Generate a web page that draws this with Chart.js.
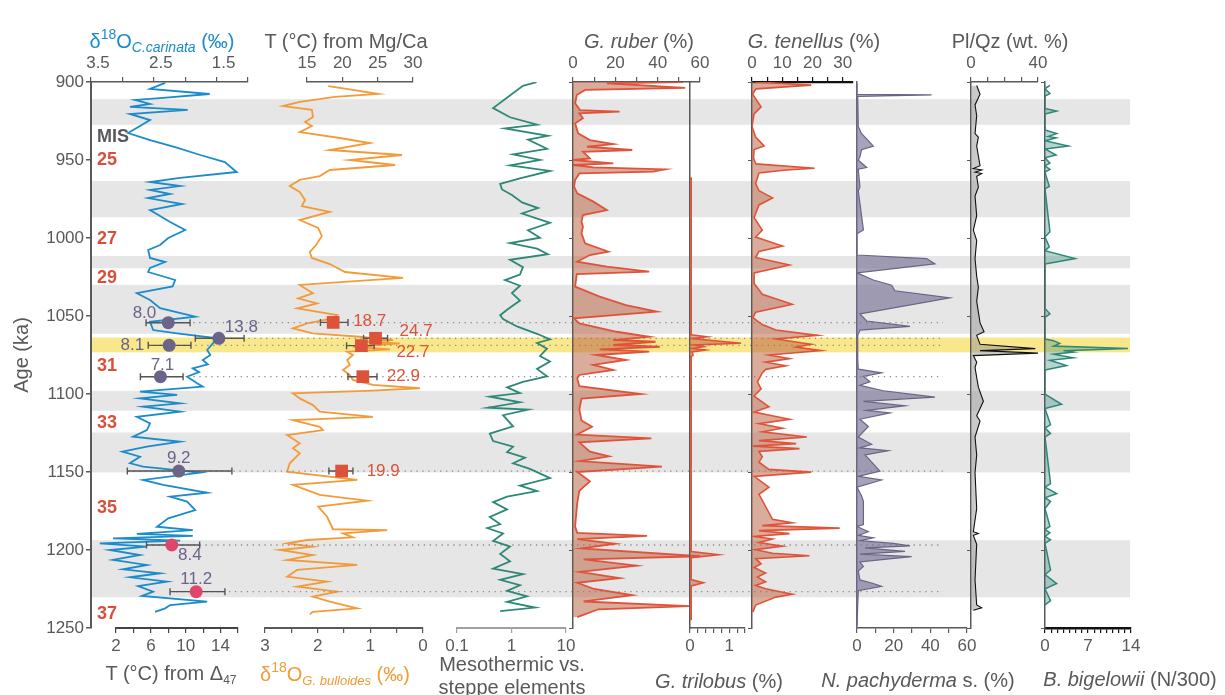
<!DOCTYPE html>
<html>
<head>
<meta charset="utf-8">
<title>Multi-proxy record 900-1250 ka</title>
<script src="https://cdn.jsdelivr.net/npm/chart.js@4.4.1/dist/chart.umd.min.js"></script>
<style>
  html, body { margin: 0; padding: 0; background: #fff; }
  #wrap { position: relative; width: 1225px; height: 695px; overflow: hidden;
          font-family: "Liberation Sans", Arial, Helvetica, sans-serif; }
  #wrap canvas { position: absolute; left: 0; top: 0; }
  .ttl { position: absolute; z-index: 5; white-space: nowrap; font-size: 20px; line-height: 20px;
         color: #58595b; transform: translateX(-50%); }
  .sup { font-size: 14px; position: relative; top: -9px; }
  .sub { font-size: 14px; position: relative; top: 4px; }
</style>
</head>
<body>
<div id="wrap">
  <div class="ttl" style="left:162px;top:31px;color:#1b8bcb">δ<span class="sup">18</span>O<span class="sub"><i>C.carinata</i></span> (‰)</div>
  <div class="ttl" style="left:346px;top:31px">T (°C) from Mg/Ca</div>
  <div class="ttl" style="left:639px;top:31px"><i>G. ruber</i> (%)</div>
  <div class="ttl" style="left:814px;top:31px"><i>G. tenellus</i> (%)</div>
  <div class="ttl" style="left:1010px;top:31px">Pl/Qz (wt. %)</div>

  <div class="ttl" style="left:171px;top:663px">T (°C) from Δ<span class="sub" style="font-size:12px">47</span></div>
  <div class="ttl" style="left:335px;top:664px;color:#f29b38">δ<span class="sup">18</span>O<span class="sub" style="font-size:13px"><i>G. bulloides</i></span> (‰)</div>
  <div class="ttl" style="left:512px;top:653px;line-height:23px;text-align:center">Mesothermic vs.<br>steppe elements</div>
  <div class="ttl" style="left:719px;top:671px"><i>G. trilobus</i> (%)</div>
  <div class="ttl" style="left:918px;top:670px"><i>N. pachyderma</i> s. (%)</div>
  <div class="ttl" style="left:1130px;top:669px"><i>B. bigelowii</i> (N/300)</div>
</div>
<script>
// ---- data (age in ka) ----

// glacial intervals (grey) and the highlighted event (yellow)
const glacialStart = [911, 963.5, 1011.5, 1030, 1098, 1124.7, 1193.7];
const glacialEnd = [927.4, 986.7, 1019.4, 1061.4, 1110.7, 1150.3, 1230.3];
const eventStart = 1063.8;
const eventEnd = 1073.3;

// MIS labels
const misStage = ["25", "27", "29", "31", "33", "35", "37"];
const misAge = [949.7, 1000.4, 1025.7, 1082, 1118.9, 1172.8, 1241];

// age axis
const ageTicks = [900, 950, 1000, 1050, 1100, 1150, 1200, 1250];

// d18O C. carinata (permil)
const carinataAge = [900.6,904.5,907.7,910.3,911.5,914.1,916.0,917.9,920.5,924.4,928.2,932.7,937.2,941.7,946.8,951.3,957.7,961.5,964.1,966.7,969.2,971.8,974.4,978.2,982.1,985.9,989.7,994.9,1000.0,1004.5,1007.7,1012.8,1015.4,1019.2,1021.8,1026.9,1031.0,1035.4,1039.7,1045.0,1050.4,1053.7,1059.0,1061.1,1064.3,1067.5,1071.8,1075.0,1078.2,1081.0,1083.5,1086.0,1088.9,1093.1,1095.3,1098.5,1100.6,1102.8,1106.0,1108.1,1111.3,1114.6,1118.8,1123.1,1127.4,1130.6,1133.8,1137.0,1140.2,1144.4,1146.6,1150.4,1155.1,1158.3,1163.3,1165.8,1169.0,1174.4,1179.7,1185.1,1187.2,1189.7,1191.0,1192.5,1194.0,1195.7,1197.9,1200.0,1203.2,1206.4,1209.6,1212.4,1214.9,1217.5,1220.3,1223.1,1226.7,1229.5,1233.1,1235.3,1237.4,1239.6];
const carinataD18O = [2.32,2.56,1.61,2.40,2.80,2.56,2.88,1.96,2.88,2.56,2.72,2.91,2.56,2.16,1.76,1.37,1.18,2.08,2.56,2.08,2.56,2.24,2.59,2.05,2.56,2.40,2.24,2.00,2.27,2.40,2.59,2.56,2.32,2.56,2.59,2.16,2.20,2.77,2.56,2.40,1.84,2.56,2.51,2.13,1.49,1.56,1.65,1.60,1.72,1.64,1.88,1.78,1.97,1.81,1.72,2.72,2.13,2.72,2.08,2.67,2.08,2.77,2.56,2.61,2.83,2.08,2.61,3.00,2.72,2.88,2.67,1.76,2.67,2.35,1.65,2.24,1.97,1.84,2.27,2.45,1.88,2.77,1.88,3.15,2.08,3.36,2.61,3.20,2.72,3.15,2.61,2.99,2.40,2.88,2.29,2.75,2.51,2.69,1.65,2.24,2.32,2.48];
const carinataTicks = [1, 1.5, 2, 2.5, 3, 3.5];
const carinataLabels = [1.5, 2.5, 3.5];

// clumped isotope temperatures T(D47), degC, with 1-sigma range
const d47Age = [1054.3, 1064.3, 1068.8, 1088.9, 1149.4, 1196.8, 1226.7];
const d47T = [8.0, 13.8, 8.1, 7.1, 9.2, 8.4, 11.2];
const d47Lo = [5.45, 11.1, 5.7, 4.8, 3.3, 5.5, 8.2];
const d47Hi = [10.5, 16.7, 10.6, 9.7, 15.3, 11.6, 14.5];
const d47Ticks = [2, 4, 6, 8, 10, 12, 14, 16];
const d47Labels = [2, 6, 10, 14];

// Mg/Ca temperatures, degC
const mgcaAge = [1054.1, 1064.3, 1069.0, 1088.9, 1149.4];
const mgcaT = [18.7, 24.7, 22.7, 22.9, 19.9];
const mgcaLo = [16.9, 23.0, 20.6, 20.8, 18.1];
const mgcaHi = [20.8, 26.4, 24.5, 24.9, 21.5];
const mgcaTicks = [15, 20, 25, 30];

// d18O G. bulloides (permil)
const bulloidesAge = [902.6,905.1,907.7,909.6,912.8,915.4,917.9,922.4,925.6,928.2,932.1,935.9,939.1,943.6,946.8,950.0,953.2,956.4,960.3,962.8,966.7,970.5,975.6,979.5,983.3,988.5,993.6,998.7,1004.5,1009.0,1012.8,1016.7,1021.8,1025.6,1030.1,1035.4,1038.7,1041.9,1045.1,1049.4,1051.5,1054.7,1057.9,1061.1,1063.3,1065.4,1066.5,1067.5,1069.7,1071.4,1072.9,1075.0,1078.2,1081.4,1084.6,1087.8,1091.0,1094.2,1096.3,1097.9,1099.6,1102.8,1107.1,1111.3,1114.6,1116.7,1121.0,1123.1,1126.3,1131.6,1134.8,1138.0,1144.4,1149.8,1155.1,1158.3,1164.7,1168.4,1172.2,1178.7,1186.7,1187.2,1189.3,1191.9,1193.6,1195.7,1197.9,1200.0,1203.2,1206.4,1209.6,1212.8,1217.1,1220.3,1223.5,1226.7,1229.9,1233.1,1237.4,1239.6,1241.3];
const bulloidesD18O = [1.80,1.33,0.85,1.67,2.34,2.66,2.11,2.09,2.24,2.11,2.34,1.58,1.01,1.77,0.40,1.39,0.53,1.77,1.96,2.34,2.53,2.34,2.24,2.30,1.77,2.34,1.99,1.92,2.03,2.15,2.11,1.77,1.48,0.38,2.34,2.09,2.37,2.01,2.39,1.63,1.71,2.20,2.47,2.09,1.20,0.57,1.20,0.44,1.33,0.63,1.44,1.33,1.44,1.39,1.52,1.39,1.33,0.95,0.06,0.95,2.47,2.34,2.09,1.96,0.95,2.47,1.96,1.90,2.58,2.34,2.47,2.34,2.53,2.58,1.25,2.47,1.96,1.06,1.99,1.82,1.71,0.68,1.52,1.33,2.20,2.58,2.09,2.72,2.09,2.58,1.25,2.39,2.58,1.82,2.39,1.63,2.09,1.77,1.25,2.09,2.15];
const bulloidesTicks = [0, 0.5, 1, 1.5, 2, 2.5, 3];
const bulloidesLabels = [0, 1, 2, 3];

// mesothermic vs. steppe elements (ratio, log axis)
const mesoAge = [900.1,902.5,909.6,916.7,922.6,927.4,929.7,934.5,936.9,942.8,946.4,949.9,953.5,957.0,961.8,965.3,968.9,972.4,977.2,980.8,984.3,990.3,995.0,999.8,1003.3,1006.8,1010.4,1014.0,1018.7,1023.5,1027.0,1030.6,1035.3,1040.1,1046.0,1049.5,1051.9,1056.7,1061.4,1065.0,1067.3,1070.9,1075.6,1079.2,1083.9,1088.7,1092.2,1095.8,1099.4,1101.7,1105.3,1108.8,1110.0,1113.6,1120.7,1125.4,1130.2,1133.7,1137.3,1140.8,1144.4,1148.0,1153.9,1158.7,1162.2,1165.8,1169.3,1174.0,1178.8,1183.5,1185.9,1189.4,1194.2,1197.8,1202.5,1207.3,1212.0,1215.5,1219.1,1222.6,1226.2,1229.7,1233.3,1236.9,1239.2];
const mesoRatio = [2.88,1.62,0.86,0.46,0.94,2.94,0.76,4.66,2.01,4.48,1.07,3.33,0.94,5.09,1.43,0.62,0.67,1.02,1.56,3.07,1.56,5.09,2.01,3.33,0.94,2.94,4.66,0.94,1.62,1.43,0.76,1.43,1.02,1.43,0.83,0.62,0.70,1.26,2.94,5.09,2.94,4.48,3.33,5.09,2.94,4.48,1.62,0.83,1.43,0.40,1.43,0.37,2.01,0.70,1.07,0.40,0.46,1.07,0.83,1.77,1.07,2.18,5.09,1.43,2.94,0.83,0.46,0.83,0.40,0.62,0.36,0.70,0.46,0.94,0.62,0.94,0.46,1.62,0.62,1.43,0.83,1.92,0.83,2.70,0.62];
const mesoTicks = [0.1, 1, 10];

// G. ruber (%)
const ruberAge = [900,900.8,903.8,905.1,908.3,913.7,918,919,920.1,923.3,926.5,932.9,937.2,939.8,941.5,943.6,944.7,949,950,952.1,953.2,954.7,956,957.5,958.6,962.8,967.1,971.4,976.7,982.1,985.3,989.5,992.8,997,1003.4,1008.8,1010.9,1015.2,1018.4,1021.6,1023.1,1031.2,1037.6,1043,1047.2,1051.5,1054.7,1060.1,1063.3,1065.4,1066.5,1068.6,1069.7,1071.4,1072.9,1075,1078.2,1081.4,1084.6,1087.8,1090,1095,1100,1103,1110,1117,1121,1126,1128.5,1131,1137,1140,1143,1146.5,1150,1156,1162,1170,1185,1189,1191,1193,1196,1199,1204,1206,1210,1214,1218,1221,1225,1229,1233,1236,1238,1243];
const ruberPct = [52,16,53,5.7,1.8,1,3.3,22,3,4.7,1,2.4,8,19,6.6,28,4.7,8,0,19,0,9.6,43.6,38,3,1,0.5,2,9.6,16,4.7,4,4.7,4,5.7,16.7,8,1.9,16,36,1.8,1,12.6,25,39.6,0.5,3,20.6,36,19,39,19,41,12.6,36,11,25,9.6,19,3,2,3,32,4,3,4,9,2,37,3,8,17,3,42,2,8,3,2,1,2,35,2,20,4,60,5,30,3,22,2,10,28,5,55,12,2];
const ruberTicks = [0, 10, 20, 30, 40, 50, 60];
const ruberLabels = [0, 20, 40, 60];

// G. trilobus (%)
const trilobusAge = [961,1062,1063.3,1064.5,1067.5,1068.5,1069.7,1070.8,1071.8,1073,1075,1076,1201,1203,1205,1219,1221,1223,1245];
const trilobusPct = [0.03,0.03,0.43,0.05,1.3,0.1,0.34,0.05,0.39,0.05,0.08,0.03,0.03,0.73,0.03,0.03,0.34,0.03,0.03];
const trilobusTicks = [0, 0.2, 0.4, 0.6, 0.8, 1, 1.2, 1.4];
const trilobusLabels = [0, 1];

// G. tenellus (%)
const tenellusAge = [900.0,902.0,904.4,907.9,915.9,920.4,928.5,935.3,941.0,943.3,949.1,952.5,955.3,956.4,958.3,965.1,969.7,974.3,978.8,986.9,994.9,999.4,1005.2,1008.6,1012.5,1017.3,1022.4,1029.2,1036.1,1042.5,1047.5,1051.0,1055.5,1059.0,1062.4,1064.7,1068.1,1069.9,1072.2,1075.0,1077.3,1079.6,1081.9,1084.2,1086.5,1092.2,1096.7,1101.3,1108.2,1111.6,1116.2,1119.0,1121.9,1124.2,1127.6,1129.9,1131.8,1133.4,1135.0,1136.8,1140.3,1143.7,1148.3,1150.1,1152.8,1159.7,1164.3,1180.3,1182.6,1184.4,1186.0,1187.6,1189.5,1191.3,1192.9,1195.2,1197.5,1199.8,1202.1,1203.7,1205.5,1208.9,1211.2,1214.7,1217.4,1220.4,1222.7,1224.9,1228.4,1230.2,1235.3,1239.8];
const tenellusPct = [1.2,19.6,1.3,0.2,3.0,0.7,0.0,1.2,4.0,0.7,0.5,1.3,20.7,11.3,2.3,1.2,2.3,6.8,2.3,0.7,3.4,1.2,10.1,2.3,1.2,12.4,0.7,0.7,3.4,13.3,1.2,0.3,3.4,7.9,21.7,7.9,19.6,14.6,22.8,5.6,12.4,4.5,11.2,4.5,3.4,1.8,3.0,0.7,5.6,0.7,12.4,2.3,10.1,3.4,18.1,2.3,14.6,0.3,15.7,2.3,3.4,2.3,5.6,19.6,0.7,5.6,2.3,6.8,13.3,3.4,29.0,2.3,12.4,0.7,6.8,2.3,10.1,1.2,6.8,19.0,1.2,3.0,0.7,4.5,1.8,4.5,1.2,4.5,13.3,7.9,1.2,0.3];
const tenellusTicks = [0, 5, 10, 15, 20, 25, 30];
const tenellusLabels = [0, 10, 20, 30];

// N. pachyderma s. (%)
const pachyAge = [901,907.9,908.3,909.3,928.5,933.1,936.5,941.1,943.4,947.9,950.2,954.8,955.9,967.4,969.7,994.9,997.2,1010.9,1013.2,1016.6,1022.3,1026.9,1030.3,1033.8,1038.4,1048.7,1053.2,1056.7,1059,1062.4,1077.3,1084.1,1086.4,1088.7,1092.1,1094.4,1097.9,1102,1104.7,1107.5,1110.5,1112.1,1116.2,1120.8,1127.6,1132.2,1134.5,1136.3,1139.1,1144.8,1149.4,1152.8,1155.1,1159.7,1165.4,1168.8,1183.7,1184.9,1188.3,1190.6,1192.2,1194,1195.8,1197.4,1198.6,1200.9,1202.7,1204.3,1205.9,1207.7,1210.5,1213.5,1219.2,1221.5,1223.3,1226.1,1235.2,1249];
const pachyPct = [0,0,40.7,0.4,0.7,2.5,5.3,8.9,2.5,1.6,0.7,5.3,0.7,1.6,0.7,3.5,0,0,38,42.5,0,8.9,18.9,20.7,50.7,1.6,5.3,28.9,1.6,0.4,0.4,0.7,13.4,3.5,7.1,1.6,14.4,42.5,3.5,26.2,5.3,18,1.6,6.2,0.7,8,1.6,17.1,4.4,8.9,12.5,0.7,13.4,0,2.5,3.5,3.5,0,6.2,0.7,8.9,1.6,19.8,28.9,4.4,26.2,1.6,29.8,16.2,1.6,3.5,0.7,1.6,8.9,13.4,0.7,0.4,0];
const pachyTicks = [0, 10, 20, 30, 40, 50, 60];
const pachyLabels = [0, 20, 40, 60];

// Pl/Qz (wt. %)
const plqzAge = [902.2,907.9,914.7,921.6,933.1,935.3,941.1,953.7,955.5,956.4,957.8,958.7,960.5,967.4,973.1,985.7,994.9,1001.7,1013.2,1024.6,1031.5,1040.6,1054.4,1060.1,1062.4,1068.1,1070.9,1072.2,1073.8,1075.4,1079.6,1083,1095.6,1104.7,1113.9,1117.3,1127.6,1139.1,1150.5,1173.4,1188.3,1189.4,1190.6,1196.3,1219.2,1235.2,1237,1238.6];
const plqzPct = [3.4,5.4,2.4,3.4,2.4,4.4,3.4,5.4,1.4,6.4,2.4,6.4,3.4,4.4,2.4,3.4,1.4,3.4,2.4,3.4,4.4,3.4,5.4,7.8,3.4,5.4,38.4,5.4,40,1.4,3.4,2.4,4.4,7.4,3.4,5.4,2.4,3.4,2.4,3.4,1.4,4.4,1.4,3.4,2.4,3.4,6.4,1.4];
const plqzTicks = [0, 10, 20, 30, 40];
const plqzLabels = [0, 40];

// B. bigelowii (N/300)
const bigeAge = [902.2,904.4,907.4,909,917,918.6,920.5,930.8,933.1,934.9,935.8,937.6,941.1,942.9,946.8,948.6,952,953.7,956,957.8,966.9,968.5,996,999.4,1005.6,1008.1,1013.2,1016.6,1045.2,1048.6,1050.9,1064.7,1065.8,1067.6,1069.3,1070.9,1072.2,1073.1,1074.5,1076.8,1078.4,1081.8,1084.6,1100.1,1106.6,1109.3,1119.6,1121.9,1125.3,1127.6,1157.4,1159.7,1163.8,1166.5,1168.8,1173.4,1184.8,1186.7,1189,1191.3,1193.5,1195.8,1212.8,1215.8,1221.5,1224.9,1232.5,1235.2];
const bigeCount = [0.8,0,0.8,0,0,1.9,0,0,1.9,0.5,1.8,0,3.8,0,1.8,0,0.8,0,0.8,0,0.7,0,0.8,0,0.7,0,4.9,0,0,0.8,0,0,1.4,2.4,1.4,13.5,3.0,4.6,1.4,4.6,0.8,3.5,0,0,2.7,0,0.9,0,0.9,0,0.9,0,1.9,0,0.9,0,0.8,0,0.8,0,0.9,0,0.9,0,1.9,0,0.9,0];
const bigeTicks = [0,1,2,3,4,5,6,7,8,9,10,11,12,13,14];
const bigeLabels = [0, 7, 14];

// ---- layout / style ----
const W = 1225, H = 695, TOP = 82, BOTTOM = 628, AXH = 30;
const FONT = '"Liberation Sans", Arial, Helvetica, sans-serif';
const GREY = "#58595b";
const GUIDE_END = 943;
Chart.defaults.font.family = FONT;
Chart.defaults.color = GREY;

// label placement beside the markers: [dx, dy, align]
const d47Place = [[-12, -9, "right"], [6, -11, "left"], [-25, 0, "right"], [2, -11, "center"], [0, -12.5, "center"], [18, 10.5, "center"], [0, -12.7, "center"]];
const d47Colors = ["#6a6488", "#6a6488", "#6a6488", "#6a6488", "#6a6488", "#e0456a", "#e0456a"];
const mgcaPlace = [[20, -1, "left"], [24, -7, "left"], [35, 7, "left"], [24, 0, "left"], [25, 0, "left"]];

const wrap = document.getElementById("wrap");

function newCanvas() {
  const cv = document.createElement("canvas");
  cv.width = W;
  cv.height = H;
  wrap.appendChild(cv);
  return cv;
}

function near(list) {
  return (v) => list.some((t) => Math.abs(t - v) < 1e-6);
}

// value axis of one panel (top or bottom)
function valueAxis(o) {
  const show = near(o.labels || o.ticks);
  return {
    type: o.type || "linear",
    position: o.pos,
    min: o.min,
    max: o.max,
    reverse: !!o.reverse,
    afterFit: (s) => { s.height = AXH; },
    afterBuildTicks: (s) => { s.ticks = o.ticks.map((v) => ({ value: v })); },
    border: { display: true, color: o.color || GREY, width: o.lw || 1.5 },
    grid: { drawOnChartArea: false, tickLength: 5, color: o.color || GREY, lineWidth: 1.2 },
    ticks: {
      autoSkip: false, maxRotation: 0, minRotation: 0, padding: 3, labelOffset: o.labelOffset || 0,
      color: GREY, font: { size: 17 },
      callback: (v) => (show(v) ? String(v) : ""),
    },
  };
}

// shared age axis; the panels only show a border (and ticks)
function ageAxis(b) {
  return {
    type: "linear", min: 900, max: 1250, reverse: true,
    display: !!b,
    afterFit: (s) => { s.width = 0; },
    afterBuildTicks: (s) => { s.ticks = ageTicks.map((v) => ({ value: v })); },
    border: { display: true, color: b ? b.color : GREY, width: b ? b.width : 1.5 },
    grid: { drawOnChartArea: false, drawTicks: !!(b && b.ticks), tickLength: 4, color: b ? b.color : GREY },
    ticks: { display: false },
  };
}

function series(ages, vals, color, fill, width) {
  const n = Math.min(ages.length, vals.length);
  const data = [];
  for (let i = 0; i < n; i++) data.push({ x: vals[i], y: ages[i] });
  return {
    data,
    borderColor: color,
    backgroundColor: fill || "transparent",
    fill: fill ? "origin" : false,
    borderWidth: width || 1.7,
    pointRadius: 0,
    tension: 0,
  };
}

function panel(box, xAxis, datasets, border, plugins) {
  const onTop = xAxis.position === "top";
  return new Chart(newCanvas(), {
    type: "line",
    data: { datasets },
    options: {
      responsive: false,
      animation: false,
      events: [],
      indexAxis: "y",
      layout: {
        padding: {
          left: box[0],
          right: W - box[1],
          top: onTop ? TOP - AXH : TOP,
          bottom: onTop ? H - BOTTOM : H - BOTTOM - AXH,
        },
      },
      plugins: { legend: { display: false }, tooltip: { enabled: false } },
      scales: { x: xAxis, y: ageAxis(border) },
    },
    plugins: plugins || [],
  });
}

function drawErrorBars(ctx, x, y, ages, lo, hi) {
  ctx.strokeStyle = "#555";
  ctx.lineWidth = 1.4;
  ages.forEach((a, i) => {
    const py = y.getPixelForValue(a);
    const x0 = x.getPixelForValue(lo[i]);
    const x1 = x.getPixelForValue(hi[i]);
    ctx.beginPath();
    ctx.moveTo(x0, py); ctx.lineTo(x1, py);
    ctx.moveTo(x0, py - 3.5); ctx.lineTo(x0, py + 3.5);
    ctx.moveTo(x1, py - 3.5); ctx.lineTo(x1, py + 3.5);
    ctx.stroke();
  });
}

function drawValueLabels(ctx, x, y, ages, vals, place, color) {
  ctx.font = "17px " + FONT;
  ctx.textBaseline = "middle";
  ctx.fillStyle = color;
  ages.forEach((a, i) => {
    const p = place[i];
    ctx.textAlign = p[2];
    ctx.fillText(vals[i].toFixed(1), x.getPixelForValue(vals[i]) + p[0], y.getPixelForValue(a) + p[1]);
  });
}

// ---- background: bands, age axis, MIS labels ----
const bandsPlugin = {
  id: "bands",
  beforeDraw(chart) {
    const { ctx, chartArea: a } = chart;
    const y = chart.scales.y;
    ctx.save();
    ctx.fillStyle = "#e6e6e6";
    glacialStart.forEach((s, i) => {
      const y0 = y.getPixelForValue(s);
      const y1 = y.getPixelForValue(glacialEnd[i]);
      ctx.fillRect(a.left, y0, a.right - a.left, y1 - y0);
    });
    ctx.fillStyle = "#f8e78b";
    const e0 = y.getPixelForValue(eventStart);
    const e1 = y.getPixelForValue(eventEnd);
    ctx.fillRect(a.left, e0, a.right - a.left, e1 - e0);
    ctx.restore();
  },
  afterDraw(chart) {
    const { ctx, chartArea: a } = chart;
    const y = chart.scales.y;
    ctx.save();
    ctx.textAlign = "left";
    ctx.textBaseline = "middle";
    ctx.font = "bold 18px " + FONT;
    ctx.fillStyle = GREY;
    ctx.fillText("MIS", a.left + 6, y.getPixelForValue(935.3));
    ctx.fillStyle = "#d9503a";
    misStage.forEach((s, i) => ctx.fillText(s, a.left + 6, y.getPixelForValue(misAge[i])));
    ctx.restore();
  },
};

new Chart(newCanvas(), {
  type: "line",
  data: { datasets: [] },
  options: {
    responsive: false,
    animation: false,
    events: [],
    layout: { padding: { left: 0, right: W - 1130, top: TOP, bottom: H - BOTTOM } },
    plugins: { legend: { display: false }, tooltip: { enabled: false } },
    scales: {
      x: { type: "linear", min: 0, max: 1, display: false },
      y: {
        type: "linear", min: 900, max: 1250, reverse: true, position: "left",
        afterFit: (s) => { s.width = 91; },
        afterBuildTicks: (s) => { s.ticks = ageTicks.map((v) => ({ value: v })); },
        border: { display: true, color: GREY, width: 2 },
        grid: { drawOnChartArea: false, tickLength: 5, color: GREY, lineWidth: 1.5 },
        ticks: { padding: 2, color: GREY, font: { size: 17 }, callback: (v) => String(v) },
        title: { display: true, text: "Age (ka)", color: GREY, font: { size: 20 }, padding: { top: 10 } },
      },
    },
  },
  plugins: [bandsPlugin],
});

// ---- panels ----
panel([91, 248],
  valueAxis({ pos: "top", min: 1, max: 3.5, reverse: true, ticks: carinataTicks, labels: carinataLabels, labelOffset: 7 }),
  [series(carinataAge, carinataD18O, "#1b8bcb", null, 1.8)]);

panel([265, 423],
  valueAxis({ pos: "bottom", min: 0, max: 3, reverse: true, ticks: bulloidesTicks, labels: bulloidesLabels, lw: 2 }),
  [series(bulloidesAge, bulloidesD18O, "#f29b38", null, 1.8)]);

const d47Plugin = {
  id: "d47",
  beforeDatasetsDraw(chart) {
    const { ctx } = chart;
    const { x, y } = chart.scales;
    ctx.save();
    ctx.strokeStyle = "#8c8c8c";
    ctx.lineWidth = 1.3;
    ctx.setLineDash([1.3, 4.6]);
    d47Age.forEach((a, i) => {
      const py = y.getPixelForValue(a);
      ctx.beginPath();
      ctx.moveTo(x.getPixelForValue(d47Lo[i]), py);
      ctx.lineTo(GUIDE_END, py);
      ctx.stroke();
    });
    ctx.setLineDash([]);
    drawErrorBars(ctx, x, y, d47Age, d47Lo, d47Hi);
    ctx.restore();
  },
  afterDatasetsDraw(chart) {
    const { ctx } = chart;
    const { x, y } = chart.scales;
    ctx.save();
    drawValueLabels(ctx, x, y, d47Age, d47T, d47Place, "#6a6488");
    ctx.restore();
  },
};

const d47Set = series(d47Age, d47T, "transparent");
d47Set.showLine = false;
d47Set.pointRadius = 6.5;
d47Set.pointBorderWidth = 0;
d47Set.pointBackgroundColor = d47Colors;
d47Set.clip = false;
panel([116, 238],
  valueAxis({ pos: "bottom", min: 2, max: 16, ticks: d47Ticks, labels: d47Labels, color: "#444", lw: 2 }),
  [d47Set], null, [d47Plugin]);

const mgcaPlugin = {
  id: "mgca",
  beforeDatasetsDraw(chart) {
    const { ctx } = chart;
    const { x, y } = chart.scales;
    ctx.save();
    drawErrorBars(ctx, x, y, mgcaAge, mgcaLo, mgcaHi);
    ctx.restore();
  },
  afterDatasetsDraw(chart) {
    const { ctx } = chart;
    const { x, y } = chart.scales;
    ctx.save();
    drawValueLabels(ctx, x, y, mgcaAge, mgcaT, mgcaPlace, "#dc533a");
    ctx.restore();
  },
};
const mgcaSet = series(mgcaAge, mgcaT, "transparent");
mgcaSet.showLine = false;
mgcaSet.pointStyle = "rect";
mgcaSet.pointRadius = 9;
mgcaSet.pointBorderWidth = 0;
mgcaSet.pointBackgroundColor = "#dc533a";
mgcaSet.clip = false;
panel([307, 413],
  valueAxis({ pos: "top", min: 15, max: 30, ticks: mgcaTicks, labels: mgcaTicks }),
  [mgcaSet], null, [mgcaPlugin]);

panel([457, 566],
  valueAxis({ type: "logarithmic", pos: "bottom", min: 0.1, max: 10, ticks: mesoTicks, labels: mesoTicks, color: "#a0a0a0", lw: 2 }),
  [series(mesoAge, mesoRatio, "#2e8877", null, 1.8)]);

panel([573, 700],
  valueAxis({ pos: "top", min: 0, max: 60, ticks: ruberTicks, labels: ruberLabels }),
  [series(ruberAge, ruberPct, "#e0533a", "rgba(188,104,72,0.55)", 1.8)],
  { color: GREY, width: 1.5, ticks: true });

panel([690, 745],
  valueAxis({ pos: "bottom", min: 0, max: 1.4, ticks: trilobusTicks, labels: trilobusLabels }),
  [series(trilobusAge, trilobusPct, "#e0533a", "rgba(188,104,72,0.55)", 1.6)],
  { color: GREY, width: 1.5, ticks: false });

panel([752, 853],
  valueAxis({ pos: "top", min: 0, max: 33.4, ticks: tenellusTicks, labels: tenellusLabels, color: "#111", lw: 2.2 }),
  [series(tenellusAge, tenellusPct, "#e0533a", "rgba(188,104,72,0.55)", 1.6)],
  { color: GREY, width: 1.5, ticks: true });

panel([857, 967],
  valueAxis({ pos: "bottom", min: 0, max: 60, ticks: pachyTicks, labels: pachyLabels }),
  [series(pachyAge, pachyPct, "#6b6585", "rgba(112,106,146,0.62)", 1.2)],
  { color: "#6b6585", width: 1.5, ticks: false });

panel([971, 1038],
  valueAxis({ pos: "top", min: 0, max: 40, ticks: plqzTicks, labels: plqzLabels }),
  [series(plqzAge, plqzPct, "#111", "rgba(150,150,150,0.5)", 1.1)],
  { color: GREY, width: 1.5, ticks: true });

panel([1045, 1131],
  valueAxis({ pos: "bottom", min: 0, max: 14, ticks: bigeTicks, labels: bigeLabels, color: "#111", lw: 2.5 }),
  [series(bigeAge, bigeCount, "#2e8877", "rgba(46,136,119,0.35)", 1.5)],
  { color: GREY, width: 1.5, ticks: true });
</script>
</body>
</html>
